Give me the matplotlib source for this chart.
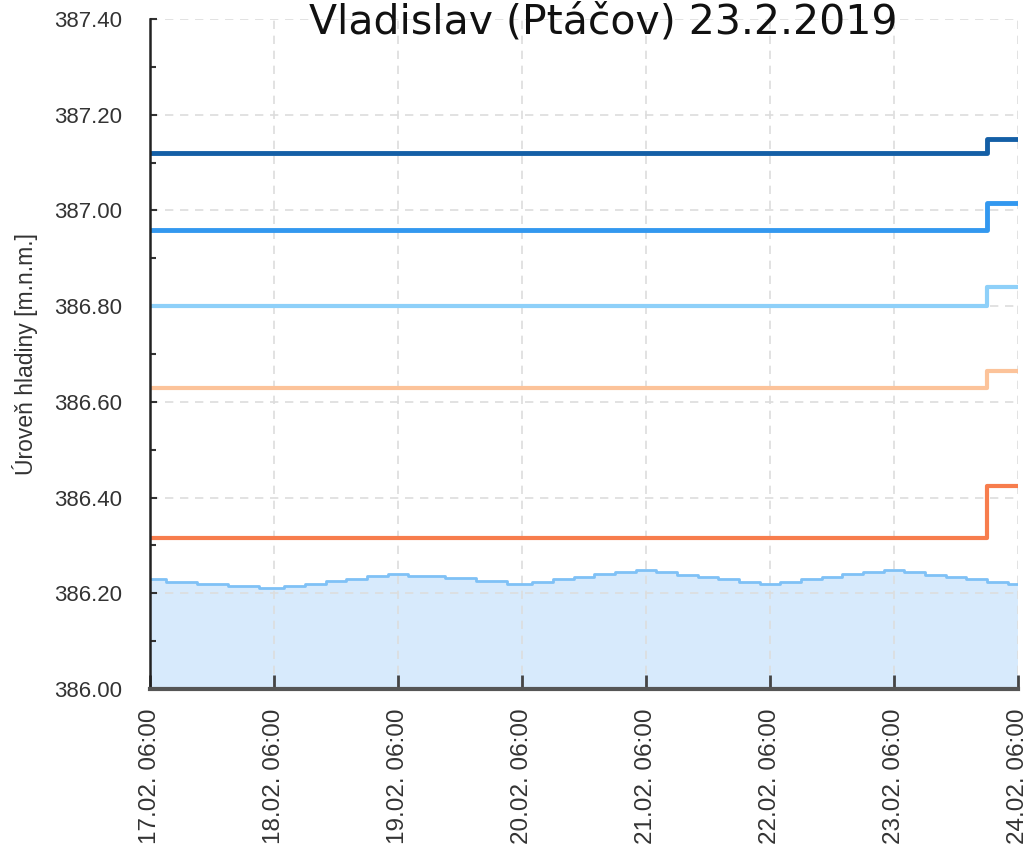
import datetime as dt
import matplotlib
matplotlib.use('Agg')
import matplotlib.pyplot as plt
import matplotlib.dates as mdates
from matplotlib.ticker import MultipleLocator

start = dt.datetime(2019, 2, 17, 6, 0)

# water level: hours after start where the stepped value changes, and the level
level_hours = [0, 3, 9, 15, 21, 26, 30, 34, 38, 42, 46, 50, 57, 63, 69, 74,
               78, 82, 86, 90, 94, 98, 102, 106, 110, 114, 118, 122, 126,
               130, 134, 138, 142, 146, 150, 154, 158, 162, 166, 168]
level_values = [386.230, 386.224, 386.220, 386.216, 386.211, 386.216, 386.220,
                386.225, 386.230, 386.236, 386.240, 386.236, 386.231, 386.225,
                386.220, 386.224, 386.229, 386.235, 386.240, 386.244, 386.249,
                386.244, 386.239, 386.234, 386.229, 386.224, 386.219, 386.224,
                386.229, 386.235, 386.240, 386.244, 386.249, 386.244, 386.239,
                386.234, 386.229, 386.224, 386.219, 386.219]

# flood stage lines, change at 23.02. 00:00
limit_hours = [0, 162, 168]
limit_dark = [387.12, 387.15, 387.15]
limit_mid = [386.96, 387.015, 387.015]
limit_light = [386.80, 386.84, 386.84]
limit_peach = [386.63, 386.665, 386.665]
limit_orange = [386.315, 386.425, 386.425]

tick_days = list(range(8))

level_t = [start + dt.timedelta(hours=h) for h in level_hours]
limit_t = [start + dt.timedelta(hours=h) for h in limit_hours]

fig = plt.figure(figsize=(10.31, 8.47), dpi=100)
ax = fig.add_axes([0.1455, 0.1865, 0.8419, 0.7911])

ax.fill_between(level_t, level_values, 386.0, step='post', color='#d7eafc', lw=0)
ax.plot(level_t, level_values, drawstyle='steps-post', color='#7fc1f6', lw=2)

ax.plot(limit_t, limit_orange, drawstyle='steps-post', color='#f77d4d', lw=3)
ax.plot(limit_t, limit_peach, drawstyle='steps-post', color='#fcc39a', lw=3)
ax.plot(limit_t, limit_light, drawstyle='steps-post', color='#8ed0f9', lw=3)
ax.plot(limit_t, limit_mid, drawstyle='steps-post', color='#3398ef', lw=3.5)
ax.plot(limit_t, limit_dark, drawstyle='steps-post', color='#145fa6', lw=3.5)

ax.set_ylim(386.0, 387.4)
ax.set_xlim(start, start + dt.timedelta(days=7))
ax.yaxis.set_major_locator(MultipleLocator(0.2))
ax.yaxis.set_minor_locator(MultipleLocator(0.1))
ax.yaxis.set_major_formatter(plt.FuncFormatter(lambda v, p: f'{v:.2f}'))

ticks = [start + dt.timedelta(days=d) for d in tick_days]
ax.set_xticks(ticks)
ax.xaxis.set_major_formatter(mdates.DateFormatter('%d.%m. %H:%M'))

for lab in ax.get_xticklabels():
    lab.set_rotation(90)
ax.tick_params(axis='x', direction='in', length=10, width=2, color='#444444',
               labelsize=17.5, labelcolor='#333333', pad=14)
ax.tick_params(axis='y', which='major', direction='in', length=5, width=1.5,
               color='#333333', labelsize=16, labelcolor='#333333', pad=20)
ax.tick_params(axis='y', which='minor', direction='in', length=4, width=1.5,
               color='#333333')
for lab in ax.get_xticklabels() + ax.get_yticklabels():
    lab.set_family('Liberation Sans')

ax.grid(True, which='major', linestyle=(0, (5, 4)), color='#dddddd', lw=1.2)

for side in ['left', 'bottom']:
    ax.spines[side].set_zorder(6)
ax.spines['top'].set_visible(False)
ax.spines['right'].set_visible(False)
ax.spines['left'].set_color('#222222')
ax.spines['left'].set_linewidth(1.8)
ax.spines['bottom'].set_color('#555555')
ax.spines['bottom'].set_linewidth(3)

ax.set_ylabel('Úroveň hladiny [m.n.m.]', fontsize=16.5, color='#333333',
              family='Liberation Sans', labelpad=12)

# title sits in the empty strip at the top of the plot
fig.text(0.585, 0.9599, 'Vladislav (Ptáčov) 23.2.2019', fontsize=29.5,
         ha='center', va='baseline', color='#111111')

fig.savefig('out.png', dpi=100)
